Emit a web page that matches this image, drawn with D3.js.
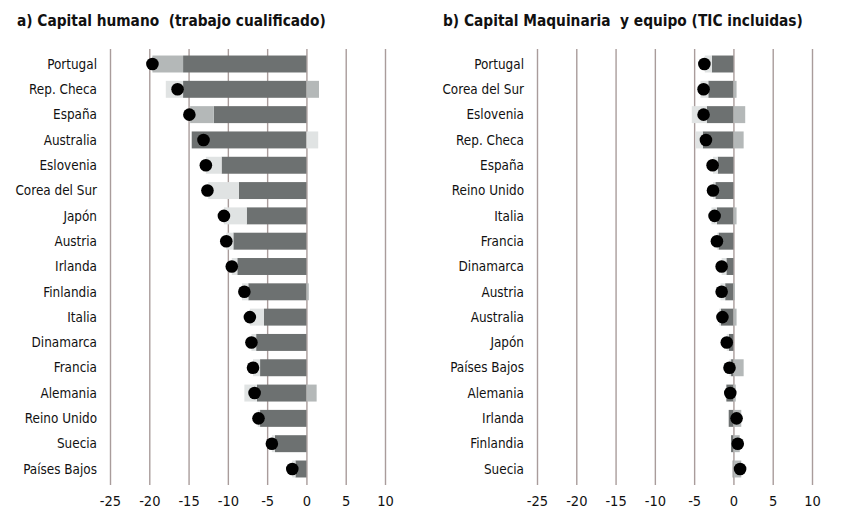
<!DOCTYPE html>
<html>
<head>
<meta charset="utf-8">
<script src="https://cdn.jsdelivr.net/npm/d3@7"></script>
<style>
  html, body { margin: 0; padding: 0; background: #ffffff; }
  svg { display: block; }
  .title { font-family: "DejaVu Sans Condensed", "DejaVu Sans", sans-serif; font-weight: bold; font-size: 15.3px; fill: #111; white-space: pre; }
  .cat { font-family: "DejaVu Sans Condensed", "DejaVu Sans", sans-serif; font-size: 13.4px; fill: #111; }
  .tick text { font-family: "DejaVu Sans Condensed", "DejaVu Sans", sans-serif; font-size: 14.5px; fill: #111; }
</style>
</head>
<body>
<svg id="chart" width="853" height="532"></svg>
<script>
// Panel a) Capital humano (trabajo cualificado)
const catsA = ["Portugal", "Rep. Checa", "España", "Australia", "Eslovenia", "Corea del Sur", "Japón",
  "Austria", "Irlanda", "Finlandia", "Italia", "Dinamarca", "Francia", "Alemania", "Reino Unido",
  "Suecia", "Países Bajos"];
const darkA  = [-15.7, -15.7, -11.8, -14.6, -10.8, -8.6, -7.6, -9.3, -8.8, -7.4, -5.4, -6.4, -5.9, -6.3, -5.9, -4.0, -1.4];
const midA   = [-3.9, 1.6, -3.0, 0, 0, 0, 0, 0, 0, 0.3, 0, 0, 0, 1.3, 0, 0, 0];
const lightA = [0, -2.2, 0, 1.5, -2.0, -3.9, -2.9, -0.9, -0.7, -0.8, -1.8, -0.6, -0.9, -1.6, -0.3, -0.4, -0.4];
const totalA = [-19.6, -16.4, -14.9, -13.1, -12.8, -12.6, -10.5, -10.2, -9.5, -7.9, -7.2, -7.0, -6.8, -6.6, -6.1, -4.4, -1.8];

// Panel b) Capital Maquinaria y equipo (TIC incluidas)
const catsB = ["Portugal", "Corea del Sur", "Eslovenia", "Rep. Checa", "España", "Reino Unido", "Italia",
  "Francia", "Dinamarca", "Austria", "Australia", "Japón", "Países Bajos", "Alemania", "Irlanda",
  "Finlandia", "Suecia"];
const darkB  = [-2.75, -3.2, -3.4, -3.9, -2.0, -2.3, -2.1, -1.9, -0.9, -1.05, -1.6, -0.6, -0.3, -0.9, -0.6, -0.3, -0.1];
const midB   = [0, 0.4, 1.5, 1.3, 0, 0, 0.4, 0, 0, 0.2, 0.4, 0, 1.3, 0.3, 1.0, 0.8, 1.0];
const lightB = [-0.9, -1.0, -1.9, -0.9, -0.6, -0.3, -0.7, -0.2, -0.6, -0.6, -0.2, -0.25, -0.2, 0, 0, 0, 0];
const totalB = [-3.7, -3.8, -3.8, -3.5, -2.65, -2.6, -2.4, -2.1, -1.5, -1.5, -1.4, -0.85, -0.5, -0.4, 0.4, 0.55, 0.85];

const xTicks = [-25, -20, -15, -10, -5, 0, 5, 10];
const titles = ["a) Capital humano  (trabajo cualificado)", "b) Capital Maquinaria  y equipo (TIC incluidas)"];

const colors = { dark: "#6d7171", mid: "#b4b8b8", light: "#e0e3e3" };
const svg = d3.select("#chart");

function drawPanel(opts) {
  const { cats, dark, mid, light, total, x0, x1, title, titleX, labelX } = opts;
  const g = svg.append("g");

  const x = d3.scaleLinear().domain([-25, 10]).range([x0, x1]);
  const y = d3.scaleBand().domain(cats).range([51.35, 481.65]).paddingInner(0.33).paddingOuter(0.165);

  // vertical grid lines at each tick
  const grid = d3.axisBottom(x).tickValues(xTicks).tickSize(-436).tickFormat("");
  g.append("g").attr("transform", "translate(0,485)").call(grid)
    .call(s => s.select(".domain").remove())
    .call(s => s.selectAll("line").attr("stroke", "#a99c9b").attr("stroke-width", 1.4));

  // tick labels
  const axis = d3.axisBottom(x).tickValues(xTicks).tickSize(0).tickPadding(0).tickFormat(d3.format("d"));
  g.append("g").attr("transform", "translate(0,496)").call(axis)
    .call(s => s.select(".domain").remove())
    .call(s => s.selectAll("text").attr("dy", "0.71em").text(d => String(d).replace("−", "-")));

  // stacked components, diverging around zero
  const rows = cats.map((c, i) => ({ cat: c, dark: dark[i], mid: mid[i], light: light[i] }));
  const keys = ["dark", "mid", "light"];
  const stack = d3.stack().keys(keys).offset(d3.stackOffsetDiverging)(rows);

  g.append("g").selectAll("g").data(stack).join("g")
    .attr("fill", d => colors[d.key])
    .selectAll("rect").data(d => d).join("rect")
    .attr("x", d => x(Math.min(d[0], d[1])))
    .attr("width", d => Math.abs(x(d[1]) - x(d[0])))
    .attr("y", d => y(d.data.cat))
    .attr("height", y.bandwidth());

  // total per country
  g.append("g").selectAll("circle").data(cats).join("circle")
    .attr("cx", (c, i) => x(total[i]))
    .attr("cy", c => y(c) + y.bandwidth() / 2)
    .attr("r", 6.3)
    .attr("fill", "#000");

  // category labels
  g.append("g").selectAll("text").data(cats).join("text")
    .attr("class", "cat")
    .attr("x", labelX)
    .attr("y", c => y(c) + y.bandwidth() / 2)
    .attr("dy", "0.35em")
    .attr("text-anchor", "end")
    .text(c => c);

  svg.append("text").attr("class", "title").attr("x", titleX).attr("y", 26).text(title);
}

drawPanel({ cats: catsA, dark: darkA, mid: midA, light: lightA, total: totalA,
  x0: 110, x1: 385, title: titles[0], titleX: 17, labelX: 97 });
drawPanel({ cats: catsB, dark: darkB, mid: midB, light: lightB, total: totalB,
  x0: 537, x1: 812, title: titles[1], titleX: 443, labelX: 524 });
</script>
</body>
</html>
